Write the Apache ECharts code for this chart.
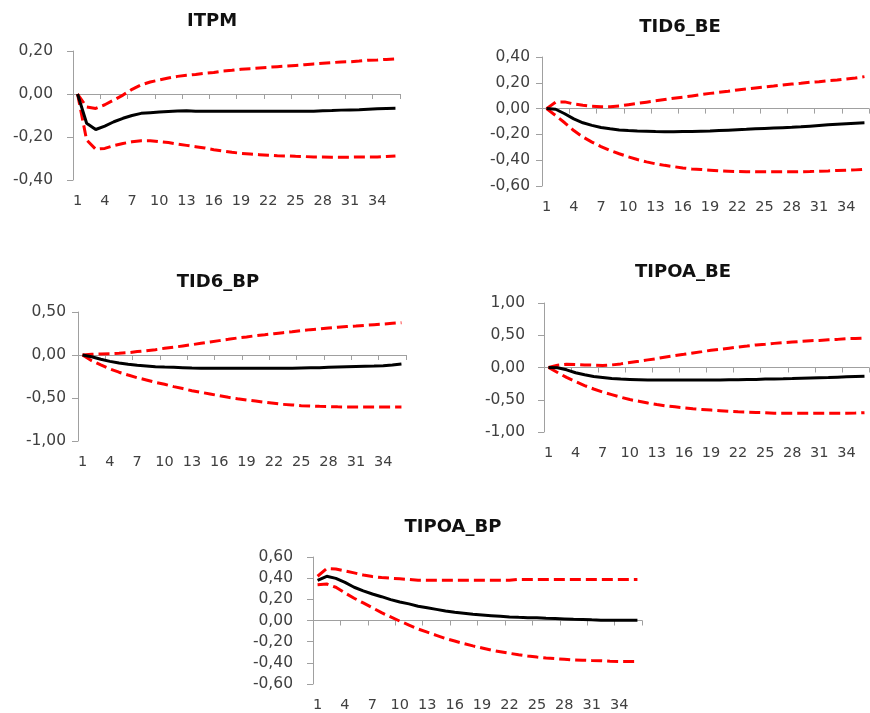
<!DOCTYPE html>
<html><head><meta charset="utf-8">
<script src="https://cdn.jsdelivr.net/npm/echarts@6/dist/echarts.min.js"></script>
<style>html,body{margin:0;padding:0;background:#fff}#c{width:870px;height:713px}</style>
</head><body><div id="c"></div>
<script>
var periods = [];
for (var k = 1; k <= 36; k++) periods.push(String(k));

var titles = ['ITPM', 'TID6_BE', 'TID6_BP', 'TIPOA_BE', 'TIPOA_BP'];

var itpmIrf = [0, -0.136, -0.165, -0.149, -0.129, -0.113, -0.100, -0.090, -0.087, -0.084, -0.081, -0.079, -0.078, -0.080, -0.080, -0.080, -0.080, -0.080, -0.080, -0.080, -0.080, -0.080, -0.080, -0.080, -0.080, -0.080, -0.080, -0.078, -0.077, -0.075, -0.074, -0.073, -0.071, -0.069, -0.067, -0.066];
var itpmUpper = [0, -0.06, -0.067, -0.05, -0.028, -0.005, 0.022, 0.042, 0.056, 0.065, 0.074, 0.082, 0.087, 0.091, 0.096, 0.100, 0.107, 0.110, 0.115, 0.118, 0.121, 0.124, 0.127, 0.130, 0.133, 0.136, 0.140, 0.143, 0.146, 0.149, 0.150, 0.153, 0.157, 0.158, 0.161, 0.163];
var itpmLower = [0, -0.214, -0.257, -0.253, -0.240, -0.230, -0.222, -0.217, -0.217, -0.222, -0.226, -0.233, -0.239, -0.245, -0.251, -0.259, -0.265, -0.271, -0.276, -0.279, -0.282, -0.285, -0.287, -0.288, -0.290, -0.291, -0.293, -0.293, -0.294, -0.294, -0.294, -0.293, -0.293, -0.293, -0.291, -0.288];

var tid6BeIrf = [0, -0.005, -0.04, -0.08, -0.11, -0.13, -0.147, -0.157, -0.165, -0.17, -0.173, -0.175, -0.178, -0.18, -0.18, -0.178, -0.177, -0.175, -0.173, -0.17, -0.167, -0.164, -0.161, -0.157, -0.154, -0.151, -0.148, -0.145, -0.141, -0.136, -0.131, -0.126, -0.121, -0.117, -0.113, -0.11];
var tid6BeUpper = [0, 0.05, 0.052, 0.036, 0.026, 0.018, 0.015, 0.015, 0.02, 0.03, 0.04, 0.05, 0.06, 0.07, 0.08, 0.088, 0.098, 0.108, 0.118, 0.126, 0.134, 0.144, 0.152, 0.16, 0.168, 0.175, 0.183, 0.19, 0.196, 0.204, 0.209, 0.217, 0.222, 0.23, 0.237, 0.248];
var tid6BeLower = [0, -0.054, -0.11, -0.17, -0.22, -0.26, -0.294, -0.325, -0.35, -0.374, -0.395, -0.413, -0.428, -0.44, -0.45, -0.46, -0.468, -0.472, -0.477, -0.482, -0.485, -0.488, -0.489, -0.49, -0.49, -0.49, -0.49, -0.49, -0.489, -0.488, -0.485, -0.483, -0.48, -0.478, -0.475, -0.47];

var tid6BpIrf = [0, -0.02, -0.05, -0.074, -0.093, -0.108, -0.12, -0.128, -0.136, -0.14, -0.143, -0.147, -0.151, -0.153, -0.153, -0.153, -0.153, -0.153, -0.153, -0.153, -0.153, -0.153, -0.153, -0.153, -0.151, -0.149, -0.147, -0.143, -0.14, -0.137, -0.134, -0.131, -0.128, -0.124, -0.117, -0.105];
var tid6BpUpper = [0, 0.008, 0.012, 0.015, 0.02, 0.027, 0.04, 0.05, 0.062, 0.078, 0.09, 0.105, 0.12, 0.136, 0.151, 0.167, 0.182, 0.198, 0.21, 0.225, 0.236, 0.248, 0.26, 0.27, 0.283, 0.295, 0.302, 0.314, 0.322, 0.33, 0.337, 0.345, 0.353, 0.36, 0.368, 0.376];
var tid6BpLower = [0, -0.066, -0.116, -0.163, -0.2, -0.233, -0.264, -0.29, -0.318, -0.34, -0.368, -0.39, -0.415, -0.434, -0.453, -0.473, -0.492, -0.508, -0.523, -0.535, -0.55, -0.562, -0.574, -0.581, -0.589, -0.593, -0.597, -0.6, -0.603, -0.605, -0.605, -0.605, -0.605, -0.605, -0.605, -0.605];

var tipoaBeIrf = [0, -0.005, -0.036, -0.082, -0.113, -0.138, -0.154, -0.17, -0.18, -0.185, -0.19, -0.195, -0.195, -0.195, -0.195, -0.195, -0.195, -0.195, -0.195, -0.193, -0.19, -0.188, -0.186, -0.185, -0.18, -0.177, -0.175, -0.172, -0.168, -0.164, -0.16, -0.156, -0.15, -0.145, -0.14, -0.135];
var tipoaBeUpper = [0, 0.036, 0.05, 0.046, 0.04, 0.036, 0.03, 0.04, 0.056, 0.077, 0.097, 0.118, 0.138, 0.164, 0.185, 0.205, 0.226, 0.246, 0.267, 0.282, 0.3, 0.318, 0.333, 0.35, 0.36, 0.374, 0.385, 0.395, 0.405, 0.415, 0.42, 0.43, 0.436, 0.446, 0.45, 0.456];
var tipoaBeLower = [0, -0.077, -0.154, -0.22, -0.28, -0.333, -0.38, -0.42, -0.46, -0.497, -0.523, -0.55, -0.574, -0.595, -0.61, -0.626, -0.64, -0.65, -0.66, -0.67, -0.68, -0.687, -0.692, -0.697, -0.7, -0.708, -0.708, -0.708, -0.708, -0.708, -0.708, -0.708, -0.708, -0.708, -0.705, -0.7];

var tipoaBpIrf = [0.38, 0.418, 0.398, 0.36, 0.314, 0.28, 0.25, 0.225, 0.197, 0.175, 0.157, 0.135, 0.12, 0.105, 0.09, 0.077, 0.068, 0.058, 0.052, 0.046, 0.04, 0.034, 0.03, 0.027, 0.025, 0.021, 0.018, 0.015, 0.012, 0.01, 0.006, 0.003, 0.003, 0.003, 0.003, 0.003];
var tipoaBpUpper = [0.418, 0.49, 0.486, 0.468, 0.45, 0.43, 0.415, 0.406, 0.4, 0.394, 0.388, 0.38, 0.38, 0.38, 0.38, 0.38, 0.38, 0.38, 0.38, 0.38, 0.38, 0.38, 0.388, 0.388, 0.388, 0.388, 0.388, 0.388, 0.388, 0.388, 0.388, 0.388, 0.388, 0.388, 0.388, 0.388];
var tipoaBpLower = [0.338, 0.345, 0.314, 0.26, 0.21, 0.166, 0.12, 0.074, 0.034, -0.006, -0.043, -0.08, -0.11, -0.14, -0.17, -0.194, -0.218, -0.24, -0.26, -0.28, -0.295, -0.31, -0.323, -0.335, -0.345, -0.354, -0.36, -0.366, -0.372, -0.375, -0.378, -0.38, -0.385, -0.388, -0.388, -0.388];

var yMins = [-0.4, -0.6, -1.0, -1.0, -0.6];
var yMaxs = [0.2, 0.4, 0.5, 1.0, 0.6];
var yIntervals = [0.2, 0.2, 0.5, 0.5, 0.2];

var panelData = [
  [itpmIrf, itpmUpper, itpmLower],
  [tid6BeIrf, tid6BeUpper, tid6BeLower],
  [tid6BpIrf, tid6BpUpper, tid6BpLower],
  [tipoaBeIrf, tipoaBeUpper, tipoaBeLower],
  [tipoaBpIrf, tipoaBpUpper, tipoaBpLower]
];

// layout (px)
var grids = [
  {left: 73, top: 51, width: 327, height: 129},
  {left: 542, top: 57, width: 327, height: 129},
  {left: 78, top: 312, width: 328, height: 129},
  {left: 544, top: 303, width: 325, height: 129},
  {left: 313, top: 557, width: 329, height: 129}
];
var yLabelMargins = [20, 12, 12, 19, 20];
var titlePos = [[212, 21], [680, 27], [218, 282], [683, 272], [453, 527]];

var axisGray = '#A0A0A0';
var labelColor = '#404040';
var font = 'DejaVu Sans';

var option = {
  animation: false,
  backgroundColor: '#fff',
  grid: grids.map(function (g) { return {left: g.left, top: g.top, width: g.width, height: g.height, containLabel: false}; }),
  xAxis: [],
  yAxis: [],
  series: [],
  graphic: []
};

for (var p = 0; p < 5; p++) {
  option.xAxis.push({
    type: 'category', gridIndex: p, data: periods, boundaryGap: true, position: 'bottom',
    axisLine: {show: false, onZero: false}, axisTick: {show: false},
    axisLabel: {interval: 2, margin: 14, color: labelColor, fontFamily: font, fontSize: 14.5},
    splitLine: {show: false}
  });
  option.xAxis.push({
    type: 'category', gridIndex: p, data: periods, boundaryGap: true, position: 'bottom',
    axisLine: {show: true, onZero: true, lineStyle: {color: axisGray, width: 1}},
    axisTick: {show: true, interval: 2, length: 5, lineStyle: {color: axisGray}},
    axisLabel: {show: false}, splitLine: {show: false}
  });
  option.yAxis.push({
    type: 'value', gridIndex: p, min: yMins[p], max: yMaxs[p], interval: yIntervals[p],
    axisLine: {show: true, lineStyle: {color: axisGray, width: 1}},
    axisTick: {show: true, length: 6, lineStyle: {color: axisGray}},
    splitLine: {show: false},
    axisLabel: {margin: yLabelMargins[p], color: labelColor, fontFamily: font, fontSize: 15.5,
      formatter: function (v) { var s = (Math.round(v * 100) / 100).toFixed(2).replace('.', ','); return s === '-0,00' ? '0,00' : s; }}
  });
  var d = panelData[p];
  var xi = p * 2;
  option.series.push({
    type: 'line', xAxisIndex: xi, yAxisIndex: p, data: d[1], symbol: 'none', z: 2,
    lineStyle: {color: '#FF0000', width: 3, type: [11, 5]}
  });
  option.series.push({
    type: 'line', xAxisIndex: xi, yAxisIndex: p, data: d[2], symbol: 'none', z: 2,
    lineStyle: {color: '#FF0000', width: 3, type: [11, 5]}
  });
  option.series.push({
    type: 'line', xAxisIndex: xi, yAxisIndex: p, data: d[0], symbol: 'none', z: 3,
    lineStyle: {color: '#000000', width: 3}
  });
  option.graphic.push({
    type: 'text', x: titlePos[p][0], y: titlePos[p][1],
    style: {text: titles[p], fill: '#111', font: 'bold 18px "DejaVu Sans"', textAlign: 'center', textVerticalAlign: 'middle'}
  });
}

var chart = echarts.init(document.getElementById('c'), null, {renderer: 'canvas'});
chart.setOption(option);
</script>
</body></html>
